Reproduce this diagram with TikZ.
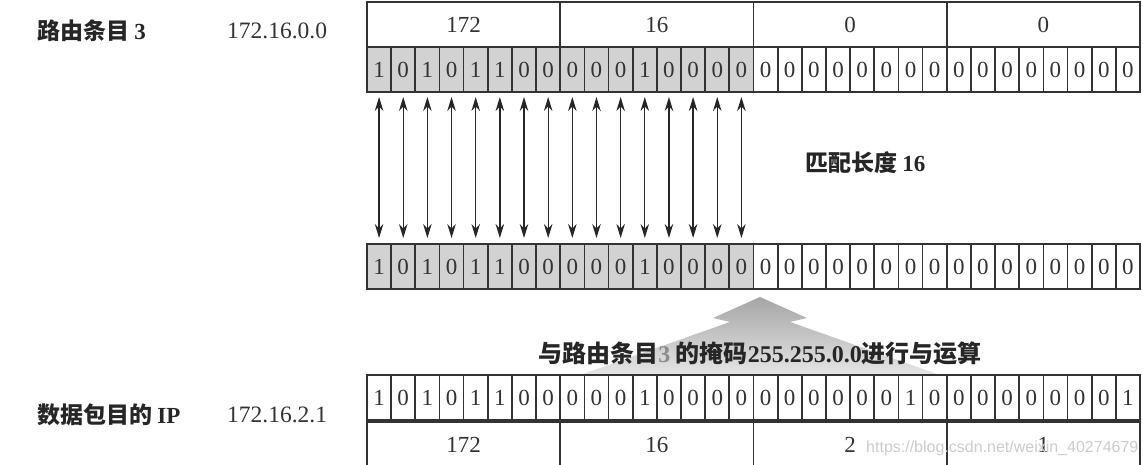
\documentclass[tikz,border=0pt]{standalone}
\usepackage{fontspec}
\setmainfont{Liberation Serif}
\newfontfamily\cjk{Noto Sans CJK SC}
\newfontfamily\wmfont{Liberation Sans}
\usetikzlibrary{arrows.meta}
\definecolor{bordercol}{HTML}{333333}
\definecolor{onfill}{HTML}{D2D2D2}
\begin{document}
\begin{tikzpicture}[x=1pt,y=-1pt,
  cell/.style={draw=bordercol, line width=1.7pt, minimum width=24.156pt, minimum height=45pt,
    inner sep=0pt, outer sep=0pt, anchor=north west, font=\fontsize{23}{23}\selectfont, text=black!80},
  bytecell/.style={cell, minimum width=193.25pt},
  label/.style={anchor=west, inner sep=0pt, font=\fontsize{23}{23}\selectfont\cjk\bfseries, text=black!85},
  ipaddr/.style={anchor=west, inner sep=0pt, font=\fontsize{23.5}{23.5}\selectfont, text=black!80},
  dbl/.style={{Stealth[length=14pt,width=8.5pt]}-{Stealth[length=14pt,width=8.5pt]}, line width=1.3pt, black!85}
]
\useasboundingbox (0,0) rectangle (1143,464);
\clip (0,0) rectangle (1143,464);
\fill[white] (0,0) rectangle (1143,464);

% big faded arrow
\shade[top color=black!35, bottom color=black!10]
  (760,297) -- (807,318) -- (790,322) -- (940,375) -- (580,375) -- (730,322) -- (713,318) -- cycle;

% top bytes
\foreach \v [count=\i from 0] in {172,16,0,0}
  \node[bytecell] (tb\i) at ({367+\i*8*24.156},2) {\v};

% top bits (route entry)
\foreach \b [count=\i from 0] in {1,0,1,0,1,1,0,0,0,0,0,1,0,0,0,0,0,0,0,0,0,0,0,0,0,0,0,0,0,0,0,0}{
  \ifnum\i<16 \def\fc{onfill}\else\def\fc{white}\fi
  \node[cell, fill=\fc] (t\i) at ({367+\i*24.156},47) {\b};
}

% middle bits (result)
\foreach \b [count=\i from 0] in {1,0,1,0,1,1,0,0,0,0,0,1,0,0,0,0,0,0,0,0,0,0,0,0,0,0,0,0,0,0,0,0}{
  \ifnum\i<16 \def\fc{onfill}\else\def\fc{white}\fi
  \node[cell, fill=\fc] (m\i) at ({367+\i*24.156},244) {\b};
}

% bottom bits (packet IP)
\foreach \b [count=\i from 0] in {1,0,1,0,1,1,0,0,0,0,0,1,0,0,0,0,0,0,0,0,0,0,1,0,0,0,0,0,0,0,0,1}
  \node[cell, fill=white] (p\i) at ({367+\i*24.156},375) {\b};

% bottom bytes
\foreach \v [count=\i from 0] in {172,16,2,1}
  \node[bytecell, fill=white] (pb\i) at ({367+\i*8*24.156},422) {\v};

% matching arrows
\foreach \i in {0,...,15}
  \draw[dbl, shorten <=5pt, shorten >=6pt] (t\i.south) -- (m\i.north);

% labels
\node[label] (l1) at (37,31) {路由条目 {\fontspec{Liberation Serif}\bfseries 3}};
\node[ipaddr] (a1) at (227,31) {172.16.0.0};
\node[label] (l2) at (37,415) {数据包目的 {\fontspec{Liberation Serif}\bfseries IP}};
\node[ipaddr] (a2) at (227,415) {172.16.2.1};
\node[label] (ml) at (805,163) {匹配长度 {\fontspec{Liberation Serif}\bfseries 16}};
\node[label, anchor=center, font=\fontsize{24}{24}\selectfont\cjk\bfseries] (op) at (760,353)
  {与路由条目{\color{black!45}\fontspec{Liberation Serif}\bfseries 3} 的掩码{\fontspec{Liberation Serif}\bfseries 255.255.0.0}进行与运算};

% watermark
\node[anchor=west, inner sep=0pt, font=\fontsize{16}{16}\wmfont, text=black!20] (wm) at (866,448) {https://blog.csdn.net/weixin\_40274679};
\end{tikzpicture}
\end{document}
